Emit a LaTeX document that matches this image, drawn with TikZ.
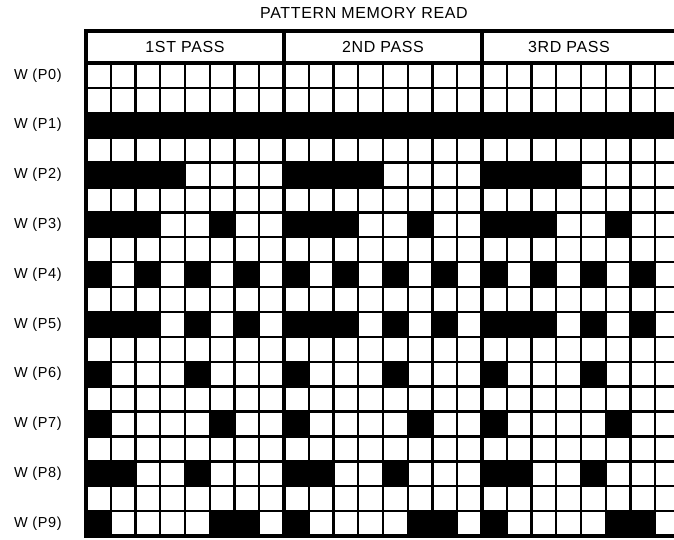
\documentclass[tikz,border=0pt]{standalone}
\usepackage{fontspec}
\setmainfont{Liberation Sans}
\newfontfamily\labfont{Liberation Sans}[LetterSpace=4]
\begin{document}
\begin{tikzpicture}[x=1pt,y=-1pt,
  thin grid/.style={line width=2.4pt,line cap=rect},
  thick grid/.style={line width=3.8pt,line cap=rect},
  lab/.style={font=\labfont\fontsize{14.5}{16}\selectfont,inner sep=0pt},
  head/.style={font=\labfont\fontsize{16}{18}\selectfont,inner sep=0pt},
  cellfill/.style={fill=black}]
\clip (0,0) rectangle (674,540);
\fill[white] (0,0) rectangle (674,540);
\def\gx{86}\def\cw{24.75}\def\gy{63}\def\rh{24.895}
% black cells
\foreach \r/\bits in {2/{1,1,1,1,1,1,1,1},4/{1,1,1,1,0,0,0,0},6/{1,1,1,0,0,1,0,0},
  8/{1,0,1,0,1,0,1,0},10/{1,1,1,0,1,0,1,0},12/{1,0,0,0,1,0,0,0},
  14/{1,0,0,0,0,1,0,0},16/{1,1,0,0,1,0,0,0},18/{1,0,0,0,0,1,1,0}}{
  \foreach \b [count=\c from 0] in \bits {
    \ifnum\b=1
      \foreach \p in {0,1,2}{
        \fill[cellfill] ({\gx+(8*\p+\c)*\cw},{\gy+\r*\rh}) rectangle ({\gx+(8*\p+\c+1)*\cw},{\gy+(\r+1)*\rh});
      }
    \fi
  }
}
% thin grid lines
\foreach \k in {1,...,26}{
  \draw[thin grid] ({\gx+\k*\cw},\gy) -- ({\gx+\k*\cw},{\gy+19*\rh});
}
\foreach \k in {1,...,18}{
  \draw[thin grid] (\gx,{\gy+\k*\rh}) -- ({\gx+24*\cw+10},{\gy+\k*\rh});
}
% thick frame
\draw[thick grid] ({\gx+24*\cw+10},31) -- (\gx,31) -- (\gx,{\gy+19*\rh}) -- ({\gx+24*\cw+10},{\gy+19*\rh});
\draw[thick grid] (\gx,\gy) -- ({\gx+24*\cw+10},\gy);
\draw[thick grid] ({\gx+8*\cw},31) -- ({\gx+8*\cw},{\gy+19*\rh});
\draw[thick grid] ({\gx+16*\cw},31) -- ({\gx+16*\cw},{\gy+19*\rh});
% texts
\node[head] (title) at (364,13) {PATTERN MEMORY READ};
\node[head] (pass1) at (185,47) {1ST PASS};
\node[head] (pass2) at (383,47) {2ND PASS};
\node[head] (pass3) at (569,47) {3RD PASS};
\foreach \j in {0,...,9}{
  \node[lab,anchor=west] (w\j) at (14,{\gy+(2*\j+0.5)*\rh}) {W (P\j)};
}
\end{tikzpicture}
\end{document}
